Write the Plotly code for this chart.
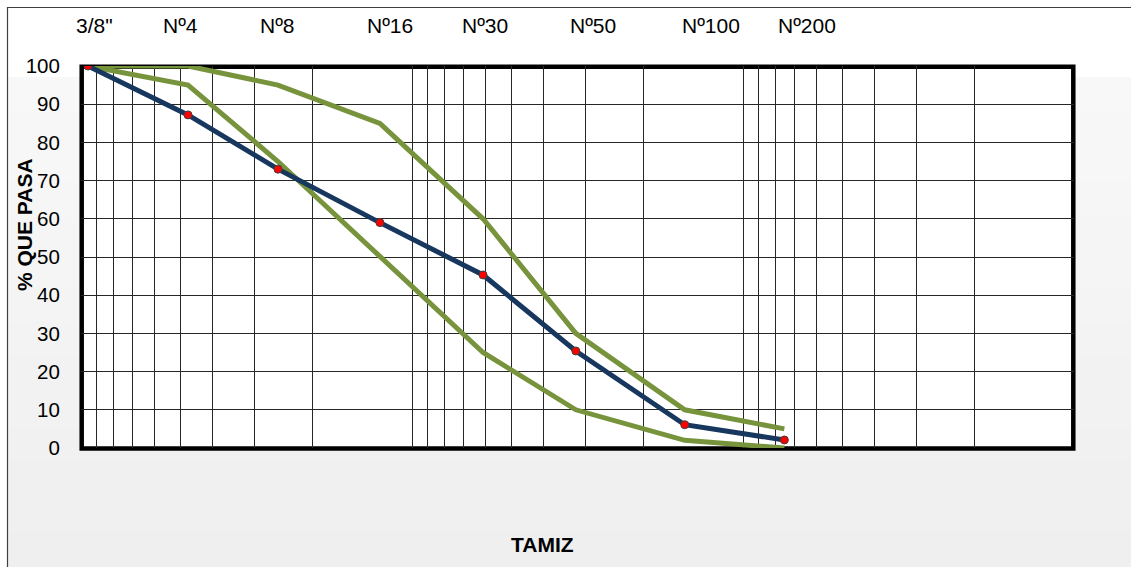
import plotly.graph_objects as go

# ---- data ----
sieve_labels = ['3/8"', "Nº4", "Nº8", "Nº16", "Nº30", "Nº50", "Nº100", "Nº200"]
sieve_mm = [9.525, 4.75, 2.54, 1.25, 0.61, 0.32, 0.15, 0.075]
pct_passing = [100, 87.2, 73.0, 59.0, 45.3, 25.4, 6.1, 2.1]
upper_limit = [100, 100, 95, 85, 60, 30, 10, 5]
lower_limit = [100, 95, 75, 50, 25, 10, 2, 0]
y_ticks = list(range(0, 101, 10))

# ---- layout geometry (pixels) ----
FW, FH = 1131, 567
ML, MR, MT, MB = 81, 57, 66, 119
L, R, T, B = ML, FW - MR, MT, FH - MB
W, H = R - L, B - T


def pxx(p):
    return (p - L) / W


def pxy(p):
    return (B - p) / H


GREEN = "#77933C"
BLUE = "#17375E"
FONT = "Liberation Sans, Arial, sans-serif"

fig = go.Figure()
fig.add_trace(go.Scatter(x=sieve_mm, y=upper_limit, mode="lines",
                         line=dict(color=GREEN, width=5), name="Límite superior",
                         showlegend=False))
fig.add_trace(go.Scatter(x=sieve_mm, y=lower_limit, mode="lines",
                         line=dict(color=GREEN, width=5), name="Límite inferior",
                         showlegend=False))
fig.add_trace(go.Scatter(x=sieve_mm, y=pct_passing, mode="lines+markers",
                         line=dict(color=BLUE, width=5),
                         marker=dict(color="#FF0000", size=8,
                                     line=dict(color="#404040", width=1)),
                         name="Muestra", showlegend=False))

shapes = []
# background gradient bands
n = 14
y0 = 77
for i in range(n):
    a = y0 + (FH - y0) * i / n
    b = y0 + (FH - y0) * (i + 1) / n + 1
    c = int(round(248 - (248 - 239) * i / (n - 1)))
    shapes.append(dict(type="rect", xref="paper", yref="paper", layer="below",
                       x0=pxx(7), x1=pxx(FW + 5), y0=pxy(b), y1=pxy(a),
                       line=dict(width=0), fillcolor=f"rgb({c},{c},{c})"))
# outer frame (top and left visible)
shapes.append(dict(type="line", xref="paper", yref="paper", layer="below",
                   x0=pxx(7), x1=pxx(FW + 5), y0=pxy(7.5), y1=pxy(7.5),
                   line=dict(color="#3f3f3f", width=1.2)))
shapes.append(dict(type="line", xref="paper", yref="paper", layer="below",
                   x0=pxx(7.5), x1=pxx(7.5), y0=pxy(7), y1=pxy(FH + 5),
                   line=dict(color="#3f3f3f", width=1.2)))
# white plot area
shapes.append(dict(type="rect", xref="paper", yref="paper", layer="below",
                   x0=0, x1=1, y0=0, y1=1, line=dict(width=0), fillcolor="white"))
# thick plot border
shapes.append(dict(type="rect", xref="paper", yref="paper", layer="between",
                   x0=pxx(81.7), x1=pxx(1073.3), y0=pxy(448.5), y1=pxy(66.7),
                   line=dict(color="black", width=4.5), fillcolor="rgba(0,0,0,0)"))

annotations = []
label_px = [94, 180, 277.5, 390, 484.5, 593, 710.5, 807]
for lab, xp in zip(sieve_labels, label_px):
    annotations.append(dict(text=lab, xref="paper", yref="paper", x=pxx(xp), y=pxy(25),
                            xanchor="center", yanchor="middle", showarrow=False,
                            font=dict(family=FONT, size=21, color="black")))
annotations.append(dict(text="<b>% QUE PASA</b>", xref="paper", yref="paper",
                        x=pxx(24), y=pxy(225), textangle=-90, xanchor="center",
                        yanchor="middle", showarrow=False,
                        font=dict(family=FONT, size=21, color="black")))
annotations.append(dict(text="<b>TAMIZ</b>", xref="paper", yref="paper",
                        x=pxx(542), y=pxy(544), xanchor="center", yanchor="middle",
                        showarrow=False, font=dict(family=FONT, size=21, color="black")))

fig.update_layout(
    width=FW, height=FH,
    margin=dict(l=ML, r=MR, t=MT, b=MB, pad=0),
    paper_bgcolor="white", plot_bgcolor="white",
    showlegend=False,
    shapes=shapes, annotations=annotations,
    xaxis=dict(type="log", range=[1, -2], dtick="D1", showticklabels=False,
               showgrid=True, gridcolor="#262626", gridwidth=1, ticks="",
               showline=False, zeroline=False, fixedrange=True),
    yaxis=dict(range=[0, 100], tickvals=y_ticks, showgrid=True, gridcolor="#262626",
               gridwidth=1, ticks="outside", ticklen=16, tickcolor="rgba(0,0,0,0)",
               tickfont=dict(family=FONT, size=20.5, color="black"),
               showline=False, zeroline=False, fixedrange=True),
)

fig.write_html("out.html", config={"displayModeBar": False},
               post_script="document.body.style.margin='0';document.body.style.overflow='hidden';")
